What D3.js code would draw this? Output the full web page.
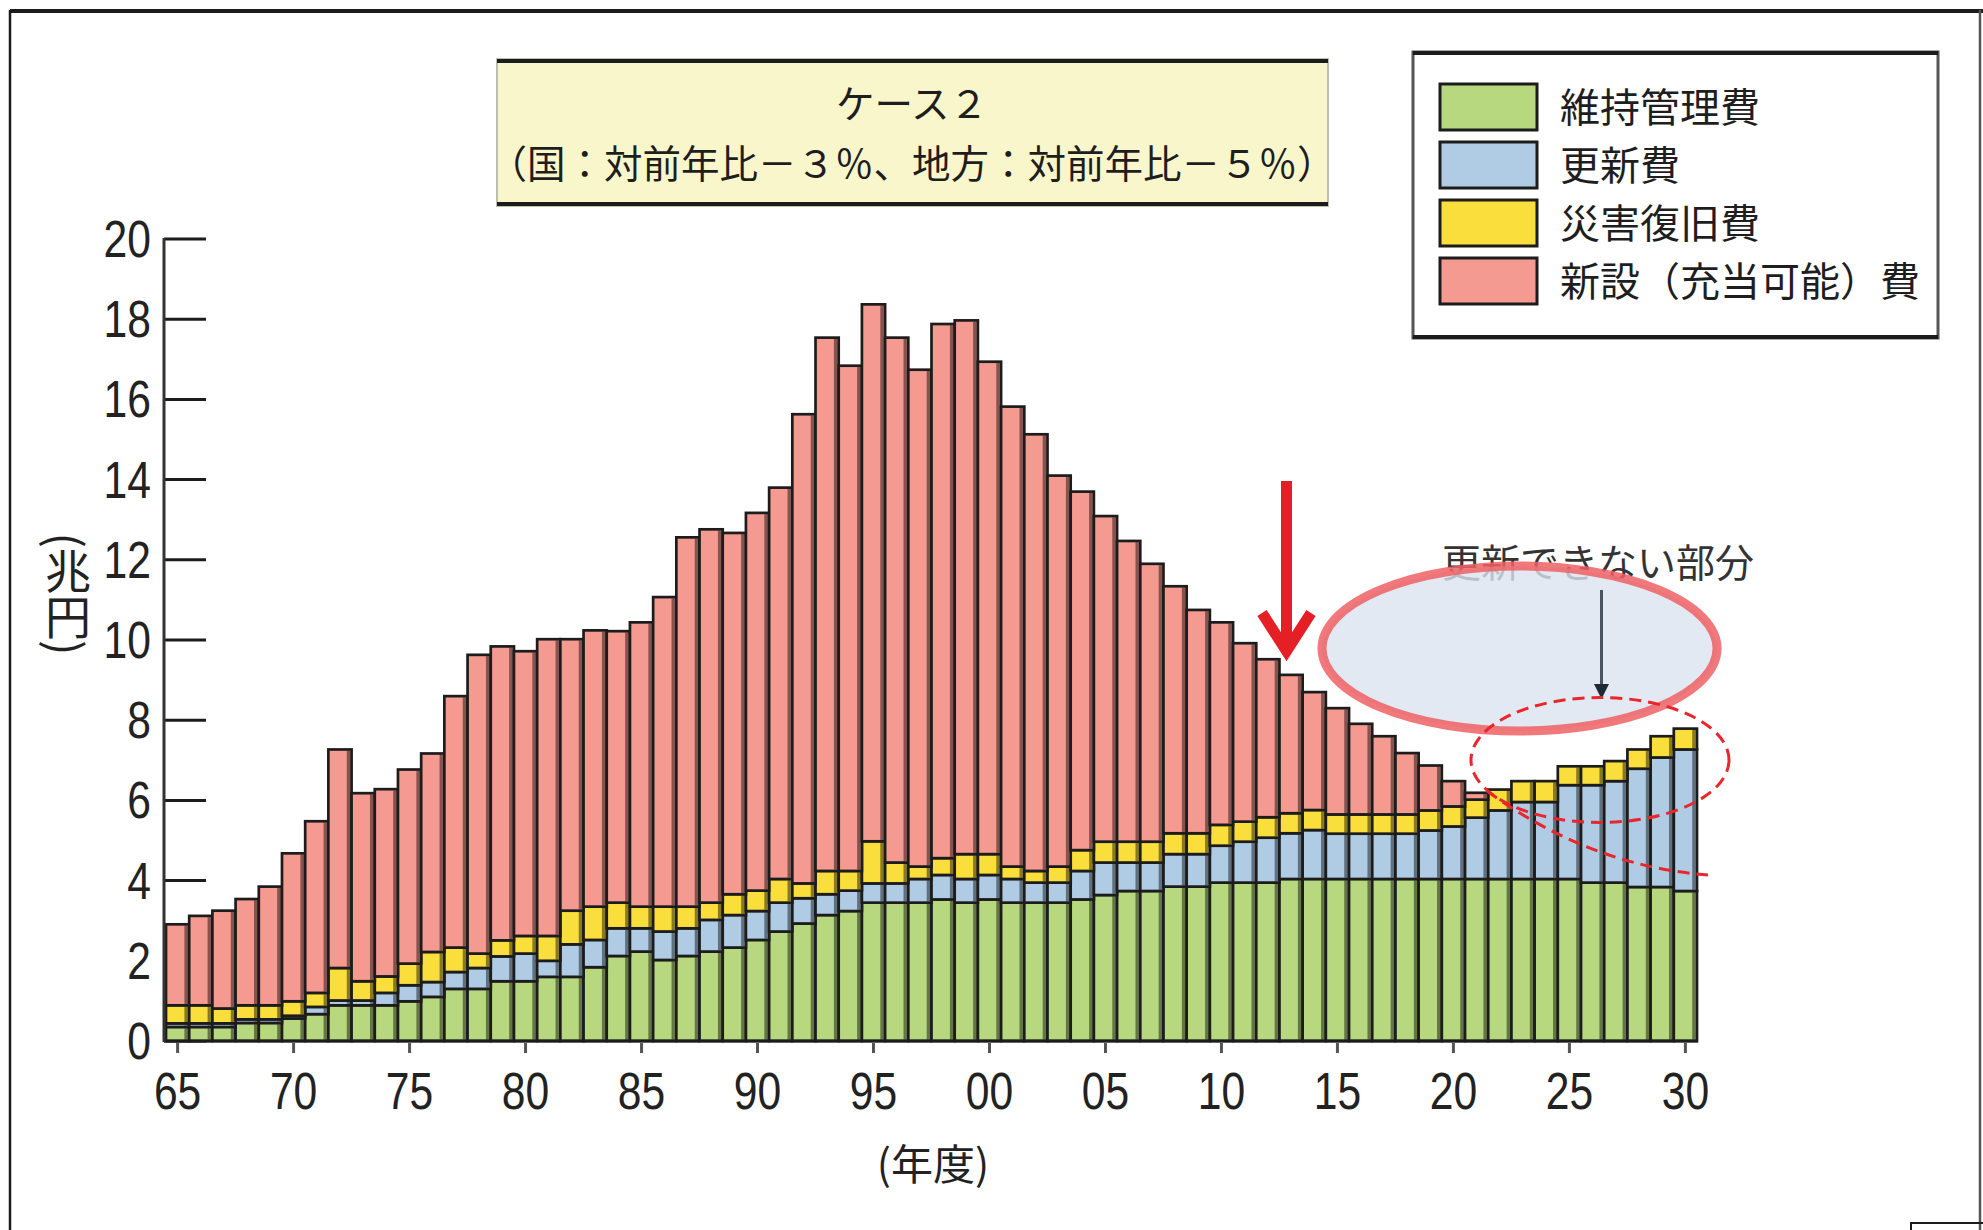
<!DOCTYPE html>
<html><head><meta charset="utf-8">
<script src="https://cdn.jsdelivr.net/npm/d3@7"></script>
<style>html,body{margin:0;padding:0;background:#fff;overflow:hidden}</style>
</head><body>
<svg id="c" width="1983" height="1230" xmlns="http://www.w3.org/2000/svg"></svg>
<script>
// ---------- data ----------
const years = d3.range(1965, 2031); // fiscal years 1965..2030 (categories)
const maintenance = [0.35,0.35,0.35,0.45,0.45,0.56,0.67,0.89,0.89,0.89,0.99,1.10,1.30,1.30,1.49,1.49,1.60,1.60,1.84,2.12,
  2.23,2.02,2.12,2.23,2.33,2.52,2.73,2.93,3.14,3.24,3.45,3.45,3.45,3.53,3.45,3.53,3.45,3.45,3.45,3.53,
  3.64,3.74,3.74,3.85,3.85,3.95,3.95,3.95,4.04,4.04,4.04,4.04,4.04,4.04,4.04,4.04,4.04,4.04,4.04,4.04,
  4.04,3.95,3.95,3.84,3.84,3.74];
const renewal = [0.09,0.09,0.09,0.09,0.09,0.07,0.18,0.12,0.12,0.31,0.40,0.37,0.42,0.52,0.62,0.69,0.40,0.81,0.68,0.69,
  0.58,0.71,0.69,0.79,0.81,0.72,0.72,0.63,0.52,0.51,0.48,0.48,0.59,0.61,0.59,0.61,0.59,0.50,0.50,0.71,
  0.81,0.71,0.71,0.81,0.81,0.92,1.02,1.12,1.14,1.22,1.13,1.13,1.13,1.13,1.21,1.31,1.53,1.71,1.92,1.92,
  2.34,2.43,2.53,2.95,3.23,3.53];
const disaster = [0.45,0.45,0.37,0.35,0.35,0.36,0.35,0.81,0.48,0.41,0.54,0.75,0.61,0.36,0.40,0.44,0.62,0.84,0.83,0.64,
  0.54,0.62,0.54,0.43,0.52,0.51,0.59,0.37,0.58,0.49,1.05,0.52,0.31,0.42,0.62,0.52,0.31,0.29,0.40,0.52,
  0.52,0.52,0.52,0.52,0.52,0.52,0.50,0.51,0.50,0.50,0.48,0.48,0.48,0.48,0.50,0.50,0.45,0.52,0.52,0.52,
  0.47,0.47,0.50,0.48,0.53,0.52];
const newBuild = [2.02,2.23,2.44,2.65,2.96,3.69,4.28,5.45,4.69,4.67,4.84,4.95,6.27,7.45,7.33,7.10,7.40,6.77,6.89,6.77,
  7.09,7.72,9.21,9.31,9.01,9.42,9.76,11.70,13.30,12.60,13.39,13.09,12.39,13.32,13.31,12.28,11.47,10.89,9.75,8.94,
  8.12,7.50,6.93,6.16,5.57,5.05,4.45,3.94,3.45,2.94,2.65,2.26,1.95,1.53,1.12,0.63,0.17,0,0,0,
  0,0,0,0,0,0];

const seriesNames = ['維持管理費','更新費','災害復旧費','新設（充当可能）費'];
const seriesColors = ['#B8D880','#B0CCE4','#FADE3C','#F49A90'];
const yTickValues = [0,2,4,6,8,10,12,14,16,18,20];
const xTickYears = [1965,1970,1975,1980,1985,1990,1995,2000,2005,2010,2015,2020,2025,2030];
const xTickLabels = ['65','70','75','80','85','90','95','00','05','10','15','20','25','30'];
const titleLines = ['ケース２','（国：対前年比－３％、地方：対前年比－５％）'];
const yAxisTitle = '(兆円)';
const xAxisTitle = '(年度)';
const annotationText = '更新できない部分';

// ---------- setup ----------
const svg = d3.select('#c');
const JP = "'Noto Sans CJK JP','Noto Sans CJK SC',sans-serif";
const NUM = "'Liberation Sans',Arial,sans-serif";
const INK = '#1c1c1c';

const x = d3.scaleBand().domain(years).range([166, 1697]).padding(0);
const y = d3.scaleLinear().domain([0, 20]).range([1041, 239]);
const bw = x.bandwidth();

// outer frame
svg.append('line').attr('x1',10).attr('x2',1983).attr('y1',11).attr('y2',11).attr('stroke',INK).attr('stroke-width',4);
svg.append('line').attr('x1',10).attr('x2',10).attr('y1',10).attr('y2',1230).attr('stroke',INK).attr('stroke-width',2.5);
svg.append('line').attr('x1',1980).attr('x2',1980).attr('y1',10).attr('y2',1230).attr('stroke','#555').attr('stroke-width',2.5);
svg.append('rect').attr('x',1911).attr('y',1223).attr('width',80).attr('height',20).attr('fill','none').attr('stroke',INK).attr('stroke-width',2);

// title box
const tb = svg.append('g');
tb.append('rect').attr('x',497).attr('y',59).attr('width',831).attr('height',147)
  .attr('fill','#FAF6CC').attr('stroke','#bdbdb0').attr('stroke-width',2);
tb.append('line').attr('x1',497).attr('x2',1328).attr('y1',61).attr('y2',61).attr('stroke',INK).attr('stroke-width',4);
tb.append('line').attr('x1',497).attr('x2',1328).attr('y1',204).attr('y2',204).attr('stroke',INK).attr('stroke-width',4);
tb.selectAll('text').data(titleLines).join('text')
  .attr('x',912).attr('y',(d,i)=> i===0 ? 101 : 161)
  .attr('text-anchor','middle').attr('dominant-baseline','central')
  .attr('font-family',JP).attr('font-size',38.5).attr('fill','#1e1e1e')
  .text(d=>d);

// legend
const lg = svg.append('g');
lg.append('rect').attr('x',1413).attr('y',52).attr('width',525).attr('height',286)
  .attr('fill','#fff').attr('stroke','#555').attr('stroke-width',3);
lg.append('line').attr('x1',1413).attr('x2',1938).attr('y1',53).attr('y2',53).attr('stroke',INK).attr('stroke-width',4);
lg.append('line').attr('x1',1413).attr('x2',1938).attr('y1',337).attr('y2',337).attr('stroke',INK).attr('stroke-width',4);
const li = lg.selectAll('g.item').data(seriesNames).join('g').attr('class','item')
  .attr('transform',(d,i)=>`translate(0,${84 + i*58})`);
li.append('rect').attr('x',1440).attr('y',0).attr('width',97).attr('height',46)
  .attr('fill',(d,i)=>seriesColors[i]).attr('stroke',INK).attr('stroke-width',3);
li.append('text').attr('x',1560).attr('y',21).attr('dominant-baseline','central')
  .attr('font-family',JP).attr('font-size',40).attr('fill','#1e1e1e').text(d=>d);

// y ticks (behind bars)
svg.append('g').selectAll('line').data(yTickValues).join('line')
  .attr('x1',164).attr('x2',206).attr('y1',d=>y(d)).attr('y2',d=>y(d))
  .attr('stroke',INK).attr('stroke-width',3);

// stacked bars
const rows = years.map((yr,i)=>({year:yr, m:maintenance[i], r:renewal[i], d:disaster[i], n:newBuild[i]}));
const stacked = d3.stack().keys(['m','r','d','n'])(rows);
const barsG = svg.append('g');
stacked.forEach((layer, k) => {
  const segs = layer.filter(d => d[1] - d[0] > 0);
  const g = barsG.append('g');
  g.selectAll('rect.seg').data(segs).join('rect').attr('class','seg')
    .attr('x', d=>x(d.data.year)).attr('y', d=>y(d[1]))
    .attr('width', bw).attr('height', d=>y(d[0]) - y(d[1]))
    .attr('fill', seriesColors[k]).attr('stroke', INK).attr('stroke-width', 2.7);
  g.selectAll('rect.shade').data(segs).join('rect').attr('class','shade')
    .attr('x', d=>x(d.data.year) + bw - 4.8).attr('y', d=>y(d[1]) + 1.35)
    .attr('width', 3.4).attr('height', d=>Math.max(0, y(d[0]) - y(d[1]) - 2.7))
    .attr('fill', '#000').attr('opacity', 0.45);
});

// axes lines
svg.append('line').attr('x1',164).attr('x2',1698).attr('y1',1041).attr('y2',1041).attr('stroke',INK).attr('stroke-width',3);
svg.append('line').attr('x1',164).attr('x2',164).attr('y1',238).attr('y2',1042).attr('stroke','#333').attr('stroke-width',3);

// x ticks
svg.append('g').selectAll('line').data(xTickYears).join('line')
  .attr('x1',d=>x(d)+bw/2).attr('x2',d=>x(d)+bw/2).attr('y1',1043).attr('y2',1053)
  .attr('stroke','#555').attr('stroke-width',3);

// tick labels
svg.append('g').selectAll('text').data(xTickYears).join('text')
  .attr('transform',d=>`translate(${x(d)+bw/2},1091) scale(0.82,1)`)
  .attr('text-anchor','middle').attr('dominant-baseline','central')
  .attr('font-family',NUM).attr('font-size',52).attr('fill','#222')
  .text((d,i)=>xTickLabels[i]);
svg.append('g').selectAll('text').data(yTickValues).join('text')
  .attr('transform',d=>`translate(151,${y(d)}) scale(0.82,1)`)
  .attr('text-anchor','end').attr('dominant-baseline','central')
  .attr('font-family',NUM).attr('font-size',52).attr('fill','#222')
  .text(d=>d);

// axis titles
svg.append('text').attr('x',933).attr('y',1161).attr('text-anchor','middle').attr('dominant-baseline','central')
  .attr('font-family',JP).attr('font-size',42).attr('fill','#222').text(xAxisTitle);
svg.append('text').attr('x',68).attr('y',594)
  .style('writing-mode','vertical-rl').style('text-orientation','mixed')
  .attr('text-anchor','middle')
  .attr('font-family',JP).attr('font-size',46).attr('fill','#222').text(yAxisTitle);

// ---------- annotations ----------
const red = '#E61E25';
svg.append('line').attr('x1',1286.5).attr('x2',1286.5).attr('y1',481).attr('y2',652)
  .attr('stroke',red).attr('stroke-width',11);
svg.append('polyline').attr('points','1262,613 1286.5,651 1311,613')
  .attr('fill','none').attr('stroke',red).attr('stroke-width',11).attr('stroke-linejoin','miter');

svg.append('text').attr('x',1598).attr('y',560).attr('text-anchor','middle').attr('dominant-baseline','central')
  .attr('font-family',JP).attr('font-size',39).attr('fill','#333').text(annotationText);

svg.append('ellipse').attr('cx',1519.5).attr('cy',648.5).attr('rx',197.5).attr('ry',82.5)
  .attr('fill','#DCE3EF').attr('fill-opacity',0.8)
  .attr('stroke','#EE6064').attr('stroke-opacity',0.85).attr('stroke-width',9);

svg.append('line').attr('x1',1601.5).attr('x2',1601.5).attr('y1',590).attr('y2',688)
  .attr('stroke','#4a5560').attr('stroke-width',3);
svg.append('path').attr('d','M1594,684 L1609,684 L1601.5,699 Z').attr('fill','#1e2a36');

svg.append('ellipse').attr('cx',1600).attr('cy',760).attr('rx',129).attr('ry',62.5)
  .attr('fill','none').attr('stroke','#E8262B').attr('stroke-width',3).attr('stroke-dasharray','12 7');
svg.append('path').attr('d','M1487,791 Q1590,866 1708,875')
  .attr('fill','none').attr('stroke','#E8262B').attr('stroke-width',3).attr('stroke-dasharray','12 7');
</script>
</body></html>
